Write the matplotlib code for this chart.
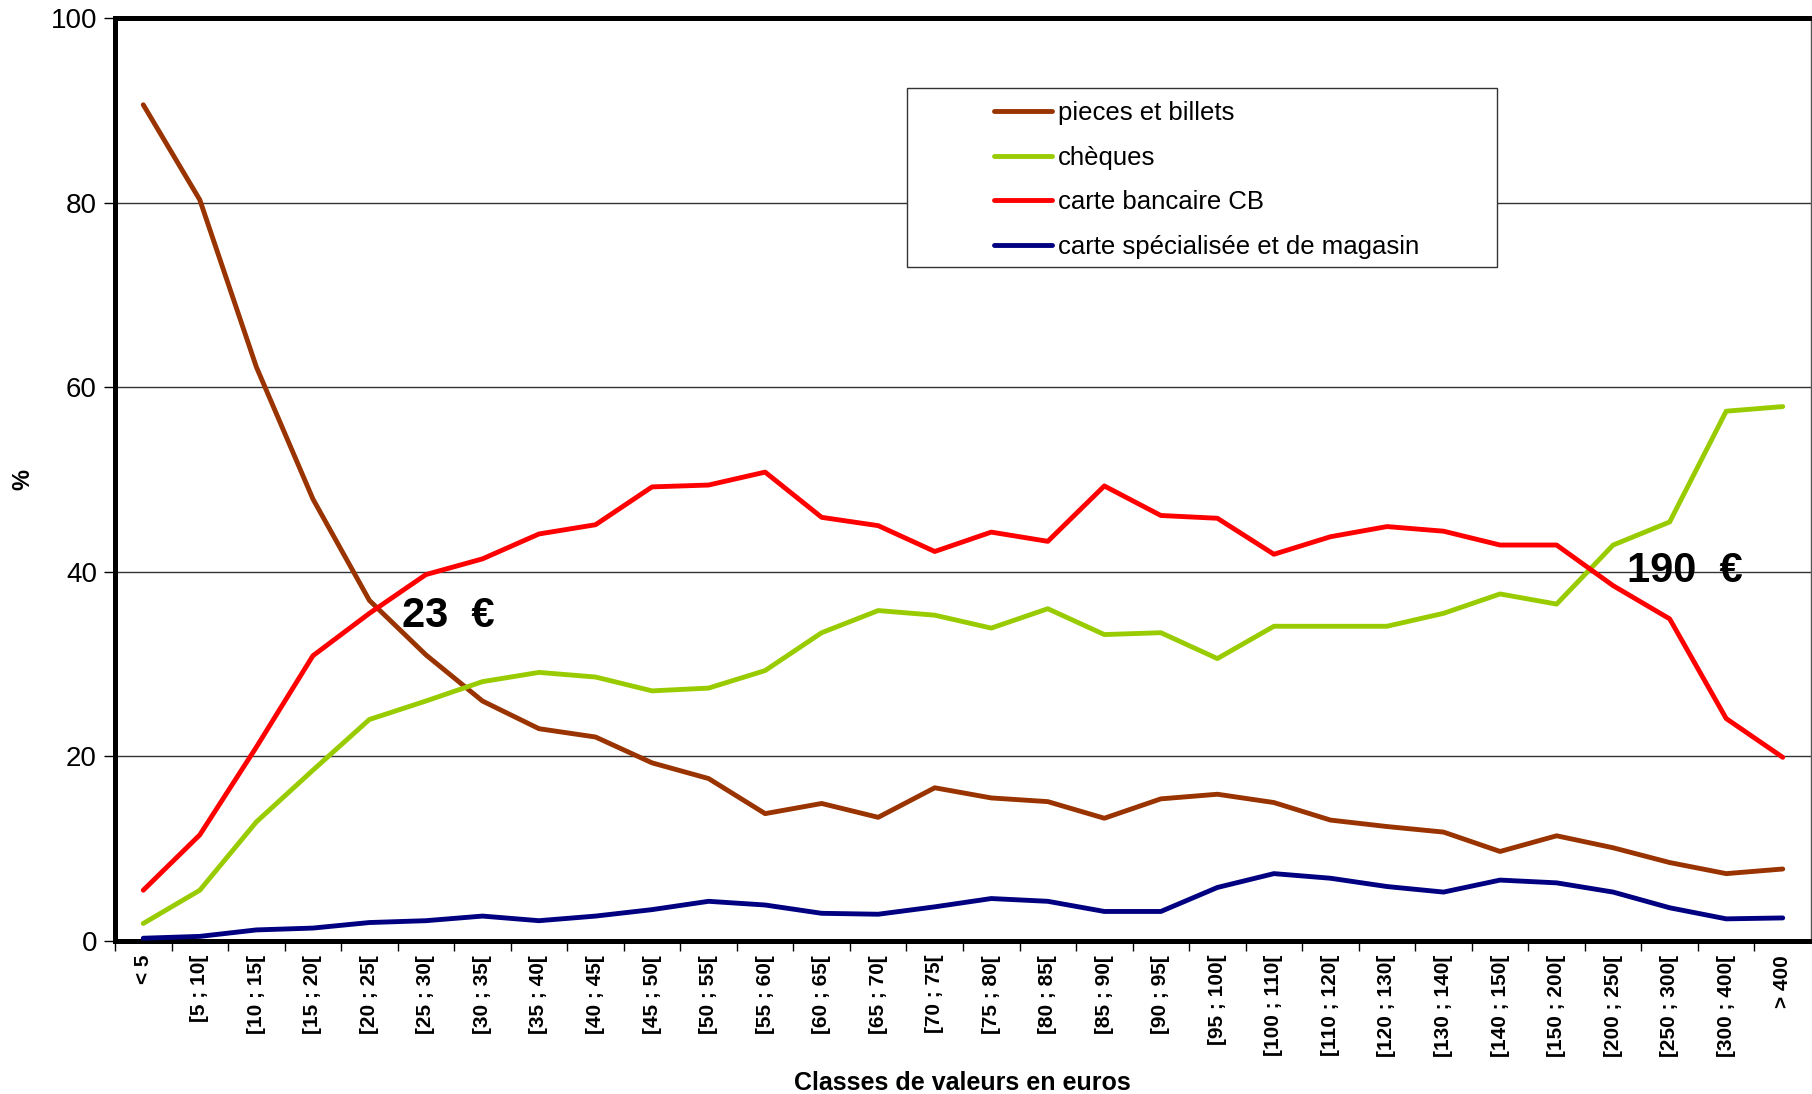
import matplotlib
matplotlib.use("Agg")
import matplotlib.pyplot as plt
from matplotlib.patches import Rectangle

plt.rcParams['font.family'] = ['Liberation Sans', 'DejaVu Sans']

categories = ["< 5", "[5 ; 10[", "[10 ; 15[", "[15 ; 20[", "[20 ; 25[", "[25 ; 30[",
              "[30 ; 35[", "[35 ; 40[", "[40 ; 45[", "[45 ; 50[", "[50 ; 55[", "[55 ; 60[",
              "[60 ; 65[", "[65 ; 70[", "[70 ; 75[", "[75 ; 80[", "[80 ; 85[", "[85 ; 90[",
              "[90 ; 95[", "[95 ; 100[", "[100 ; 110[", "[110 ; 120[", "[120 ; 130[",
              "[130 ; 140[", "[140 ; 150[", "[150 ; 200[", "[200 ; 250[", "[250 ; 300[",
              "[300 ; 400[", "> 400"]

pieces = [90.6, 80.3, 62.2, 47.9, 36.9, 31.0, 26.0, 23.0, 22.1, 19.3, 17.6, 13.8,
          14.9, 13.4, 16.6, 15.5, 15.1, 13.3, 15.4, 15.9, 15.0, 13.1, 12.4, 11.8,
          9.7, 11.4, 10.1, 8.5, 7.3, 7.8]
cheques = [1.9, 5.5, 12.9, 18.5, 24.0, 26.0, 28.1, 29.1, 28.6, 27.1, 27.4, 29.3,
           33.4, 35.8, 35.3, 33.9, 36.0, 33.2, 33.4, 30.6, 34.1, 34.1, 34.1, 35.5,
           37.6, 36.5, 42.9, 45.4, 57.4, 57.9]
carte_cb = [5.5, 11.5, 21.0, 30.9, 35.5, 39.7, 41.4, 44.1, 45.1, 49.2, 49.4, 50.8,
            45.9, 45.0, 42.2, 44.3, 43.3, 49.3, 46.1, 45.8, 41.9, 43.8, 44.9, 44.4,
            42.9, 42.9, 38.5, 34.9, 24.1, 19.9]
carte_spe = [0.3, 0.5, 1.2, 1.4, 2.0, 2.2, 2.7, 2.2, 2.7, 3.4, 4.3, 3.9,
             3.0, 2.9, 3.7, 4.6, 4.3, 3.2, 3.2, 5.8, 7.3, 6.8, 5.9, 5.3,
             6.6, 6.3, 5.3, 3.6, 2.4, 2.5]

series_names = ["pieces et billets", "chèques", "carte bancaire CB",
                "carte spécialisée et de magasin"]
series_values = [pieces, cheques, carte_cb, carte_spe]
series_colors = ["#993300", "#99CC00", "#FF0000", "#000080"]

annotations = [("23  €", 4.58, 34.0), ("190  €", 26.25, 38.9)]

W, H = 1812, 1094
fig = plt.figure(figsize=(W / 100, H / 100), dpi=100)
ax = fig.add_axes([115 / W, 1 - 941 / H, 1696 / W, 923 / H])

x = list(range(len(categories)))
handles = []
for name, vals, col in zip(series_names, series_values, series_colors):
    h, = ax.plot(x, vals, color=col, lw=3.5, label=name, zorder=3,
                 solid_capstyle='round', solid_joinstyle='round')
    handles.append(h)

ax.set_xlim(-0.5, len(categories) - 0.5)
ax.set_ylim(0, 100)
ax.set_yticks([0, 20, 40, 60, 80, 100])
ax.set_yticklabels(["0", "20", "40", "60", "80", "100"], fontsize=20)
ax.yaxis.grid(True, color="#333333", lw=1.0)
ax.set_axisbelow(True)

ax.set_xticks(x)
ax.set_xticklabels(categories, rotation=90, fontsize=15, fontweight='bold', va='top')
ax.set_xticks([i - 0.5 for i in x], minor=True)
ax.tick_params(axis='x', which='major', length=0, pad=10)
ax.tick_params(axis='x', which='minor', length=7, width=1, direction='out')
ax.tick_params(axis='y', which='major', length=8, width=1, direction='out', pad=5)

for s in ['top', 'left', 'bottom']:
    ax.spines[s].set_linewidth(3.6)
    ax.spines[s].set_color('black')
ax.spines['right'].set_linewidth(1.0)
ax.spines['right'].set_color('#555555')

ax.set_xlabel("Classes de valeurs en euros", fontsize=18, fontweight='bold')
ax.xaxis.set_label_coords((962 - 115) / 1696, (941 - 1090) / 923)
ax.xaxis.label.set_va('baseline')
ax.set_ylabel("%", fontsize=17, fontweight='bold')
ax.yaxis.set_label_coords((23 - 115) / 1696, (941 - 480) / 923)
ax.yaxis.label.set_va('center')

for txt, xx, yy in annotations:
    ax.text(xx, yy, txt, fontsize=30, fontweight='bold', va='baseline', ha='left', zorder=4)

# legend box
box = Rectangle((907 / W, 1 - 267 / H), (1497 - 907) / W, (267 - 88) / H,
                transform=fig.transFigure, facecolor='white', edgecolor='#333333',
                lw=1.0, zorder=4.5)
fig.add_artist(box)
leg = fig.legend(handles=handles, loc='upper left',
                 bbox_to_anchor=(994 / W, 1 - 101 / H), frameon=False,
                 fontsize=18.5, handlelength=2.25, handletextpad=0.25,
                 labelspacing=0.8, borderpad=0, borderaxespad=0)
leg.set_zorder(5)

fig.savefig("out.png", dpi=100)
